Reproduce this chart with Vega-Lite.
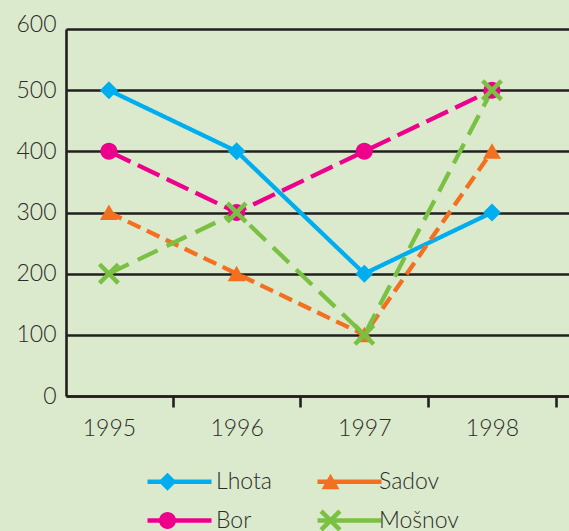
{
  "$schema": "https://vega.github.io/schema/vega-lite/v6.json",
  "width": 503,
  "height": 367,
  "autosize": "none",
  "padding": {"left": 66, "top": 29, "right": 0, "bottom": 135},
  "background": "#dbeacc",
  "config": {"view": {"stroke": null}, "font": "Lato"},
  "data": {
    "values": [
      {"series": "Lhota", "year": 1995, "value": 500},
      {"series": "Lhota", "year": 1996, "value": 400},
      {"series": "Lhota", "year": 1997, "value": 200},
      {"series": "Lhota", "year": 1998, "value": 300},
      {"series": "Bor", "year": 1995, "value": 400},
      {"series": "Bor", "year": 1996, "value": 300},
      {"series": "Bor", "year": 1997, "value": 400},
      {"series": "Bor", "year": 1998, "value": 500},
      {"series": "Sadov", "year": 1995, "value": 300},
      {"series": "Sadov", "year": 1996, "value": 200},
      {"series": "Sadov", "year": 1997, "value": 100},
      {"series": "Sadov", "year": 1998, "value": 400},
      {"series": "Mošnov", "year": 1995, "value": 200},
      {"series": "Mošnov", "year": 1996, "value": 300},
      {"series": "Mošnov", "year": 1997, "value": 100},
      {"series": "Mošnov", "year": 1998, "value": 500}
    ]
  },
  "encoding": {
    "x": {
      "field": "year",
      "type": "quantitative",
      "title": null,
      "scale": {"domain": [1994.664, 1998.603], "nice": false, "zero": false},
      "axis": {
        "values": [1995, 1995.5, 1996, 1996.5, 1997, 1997.5, 1998, 1998.5],
        "labelExpr": "datum.value % 1 === 0 ? '' + datum.value : ''",
        "labelOverlap": false,
        "labelFlush": false,
        "grid": false,
        "domainColor": "#231f20",
        "domainWidth": 2.6,
        "tickColor": "#231f20",
        "tickWidth": 2.6,
        "tickSize": 11,
        "tickOpacity": {"condition": {"test": "datum.value % 1 === 0", "value": 0}, "value": 1},
        "labelFont": "Lato",
        "labelFontSize": 23,
        "labelFontWeight": 300,
        "labelColor": "#2b2b2b",
        "labelPadding": 10
      }
    },
    "y": {
      "field": "value",
      "type": "quantitative",
      "title": null,
      "scale": {"domain": [0, 600], "nice": false},
      "axis": {
        "values": [0, 100, 200, 300, 400, 500, 600],
        "grid": true,
        "gridColor": "#231f20",
        "gridWidth": 2.3,
        "gridOpacity": 1,
        "ticks": false,
        "tickSize": 0,
        "domainColor": "#231f20",
        "domainWidth": 2.6,
        "labelFont": "Lato",
        "labelFontSize": 23,
        "labelFontWeight": 300,
        "labelColor": "#2b2b2b",
        "labelPadding": 10,
        "labelOffset": {"condition": {"test": "datum.value === 600", "value": -5}, "value": 0}
      }
    },
    "color": {
      "field": "series",
      "type": "nominal",
      "scale": {
        "domain": ["Lhota", "Bor", "Sadov", "Mošnov"],
        "range": ["#00aeef", "#ec008c", "#f37021", "#7ac143"]
      },
      "legend": {
        "orient": "none",
        "legendX": 90,
        "legendY": 441,
        "columns": 2,
        "title": null,
        "labelFont": "Lato",
        "labelFontSize": 23,
        "labelFontWeight": 300,
        "labelColor": "#2b2b2b",
        "labelOffset": 37,
        "rowPadding": 15,
        "columnPadding": 47,
        "symbolSize": 4,
        "zindex": 2,
        "encode": {
          "symbols": {
            "update": {
              "shape": {"signal": "datum.value === 'Lhota' ? 'M0,-9L9,0L0,9L-9,0Z' : datum.value === 'Sadov' ? 'M0,-10L9,6L-9,6Z' : datum.value === 'Bor' ? 'M-8,0A8,8,0,1,1,8,0A8,8,0,1,1,-8,0Z' : 'M7.81,-11L11,-7.81L3.18,0L11,7.81L7.81,11L0,3.18L-7.81,11L-11,7.81L-3.18,0L-11,-7.81L-7.81,-11L0,-3.18Z'"},
              "fill": {"scale": "color", "field": "value"},
              "stroke": {"value": "transparent"},
              "strokeWidth": {"value": 0},
              "size": {"value": 4},
              "opacity": {"value": 1}
            }
          }
        }
      }
    }
  },
  "layer": [
    {
      "mark": {"type": "line"},
      "encoding": {
        "strokeDash": {
          "field": "series",
          "type": "nominal",
          "legend": null,
          "scale": {
            "domain": ["Lhota", "Bor", "Sadov", "Mošnov"],
            "range": [[1, 0], [24, 8], [14, 7], [22, 10]]
          }
        },
        "strokeWidth": {
          "field": "series",
          "type": "nominal",
          "scale": {
            "domain": ["Bor", "Lhota", "Mošnov", "Sadov"],
            "range": [4.3, 4.3, 4.3, 4.3]
          },
          "legend": {
            "orient": "none",
            "legendX": 102,
            "legendY": 441,
            "columns": 2,
            "values": ["Lhota", "Bor", "Sadov", "Mošnov"],
            "title": null,
            "symbolType": "M-16,0L16,0",
            "symbolSize": 16,
            "labelExpr": "''",
            "labelFontSize": 23,
            "labelOffset": 0,
            "rowPadding": 15,
            "columnPadding": 87,
            "zindex": 1,
            "encode": {
              "symbols": {
                "update": {
                  "stroke": {"scale": "color", "field": "value"},
                  "fill": {"value": "transparent"},
                  "opacity": {"value": 1}
                }
              }
            }
          }
        }
      }
    },
    {
      "mark": {"type": "point", "filled": true, "size": 4, "opacity": 1, "strokeWidth": 0},
      "encoding": {
        "shape": {
          "field": "series",
          "type": "nominal",
          "legend": null,
          "scale": {
            "domain": ["Lhota", "Bor", "Sadov", "Mošnov"],
            "range": [
              "M0,-9L9,0L0,9L-9,0Z",
              "M-8.5,0A8.5,8.5,0,1,1,8.5,0A8.5,8.5,0,1,1,-8.5,0Z",
              "M0,-8L9,7.5L-9,7.5Z",
              "M7.81,-11L11,-7.81L3.18,0L11,7.81L7.81,11L0,3.18L-7.81,11L-11,7.81L-3.18,0L-11,-7.81L-7.81,-11L0,-3.18Z"
            ]
          }
        }
      }
    }
  ]
}
